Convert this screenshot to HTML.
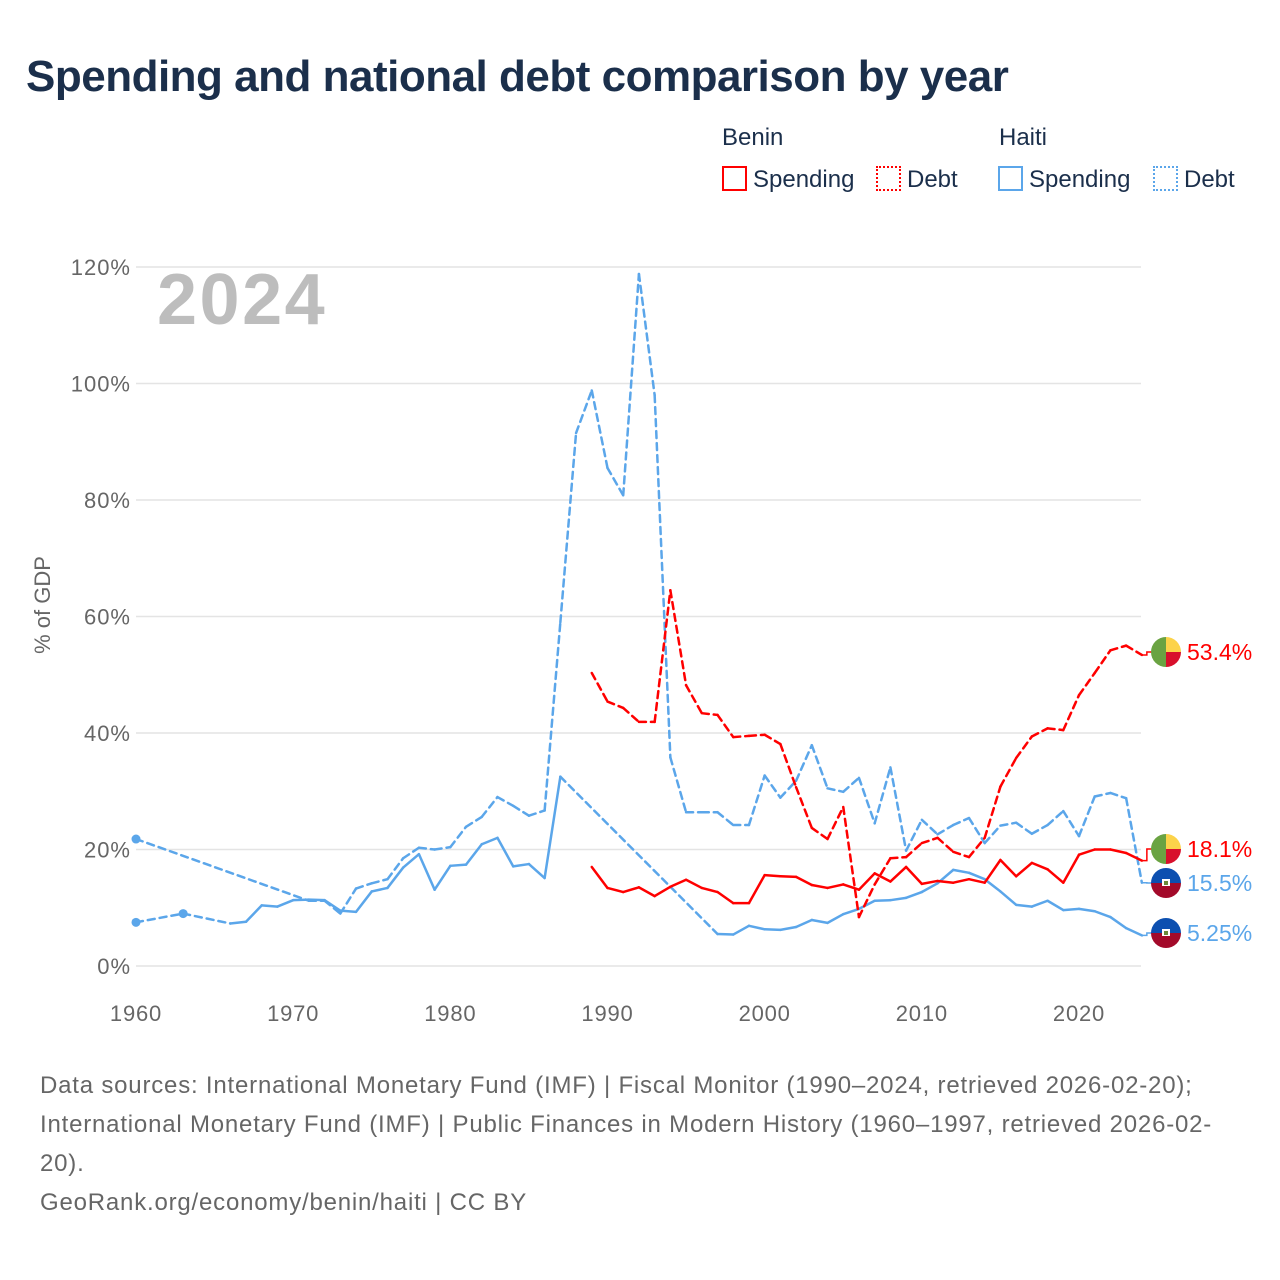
<!DOCTYPE html>
<html><head><meta charset="utf-8"><style>
body{margin:0;background:#fff;font-family:"Liberation Sans",sans-serif;}
#wrap{position:relative;width:1280px;height:1280px;overflow:hidden;}
.t{position:absolute;white-space:nowrap;}
</style></head><body>
<div id="wrap">
<div class="t" style="left:26px;top:52px;font-size:44px;font-weight:bold;color:#1b2f4b;letter-spacing:-0.5px;">Spending and national debt comparison by year</div>
<div class="t" style="left:722px;top:124px;font-size:24px;color:#1b2f4b;">Benin</div>
<div class="t" style="left:999px;top:124px;font-size:24px;color:#1b2f4b;">Haiti</div>
<div class="t" style="left:722px;top:166px;font-size:24px;color:#1b2f4b;"><span style="display:inline-block;width:21px;height:21px;border:2px solid #f00;vertical-align:-4px;margin-right:6px;"></span>Spending</div>
<div class="t" style="left:876px;top:166px;font-size:24px;color:#1b2f4b;"><span style="display:inline-block;width:21px;height:21px;border:2px dotted #f00;vertical-align:-4px;margin-right:6px;"></span>Debt</div>
<div class="t" style="left:998px;top:166px;font-size:24px;color:#1b2f4b;"><span style="display:inline-block;width:21px;height:21px;border:2px solid #5ba6ea;vertical-align:-4px;margin-right:6px;"></span>Spending</div>
<div class="t" style="left:1153px;top:166px;font-size:24px;color:#1b2f4b;"><span style="display:inline-block;width:21px;height:21px;border:2px dotted #5ba6ea;vertical-align:-4px;margin-right:6px;"></span>Debt</div>
<svg id="plot" width="1280" height="1280" style="position:absolute;left:0;top:0;"></svg>
<div class="t" style="left:40px;top:1066px;font-size:24px;line-height:39px;color:#666;white-space:nowrap;letter-spacing:0.8px;">Data sources: International Monetary Fund (IMF) | Fiscal Monitor (1990–2024, retrieved 2026-02-20);<br>International Monetary Fund (IMF) | Public Finances in Modern History (1960–1997, retrieved 2026-02-<br>20).<br>GeoRank.org/economy/benin/haiti | CC BY</div>
</div>
<script>
const years=[];for(let y=1960;y<=2024;y++)years.push(y);
const yTicks=[0,20,40,60,80,100,120];
const xTicks=[1960,1970,1980,1990,2000,2010,2020];
const N=null;
const haitiSpending=[7.5,N,N,9,N,N,7.3,7.6,10.4,10.2,11.3,11.4,11.3,9.5,9.3,12.8,13.4,16.9,19.2,13.1,17.2,17.4,20.9,22.0,17.1,17.5,15.1,32.5,N,N,N,N,N,N,N,N,N,5.5,5.4,6.9,6.3,6.2,6.7,7.9,7.4,8.9,9.8,11.2,11.3,11.7,12.7,14.2,16.5,16.0,14.9,12.8,10.5,10.2,11.2,9.6,9.8,9.4,8.4,6.5,5.25];
const haitiDebt=[21.8,N,N,N,N,N,N,N,N,N,N,11.2,11.2,9.0,13.3,14.2,14.9,18.5,20.3,20.0,20.4,23.9,25.6,29.0,27.5,25.8,26.7,59,91.5,98.8,85.5,80.8,118.8,98,35.8,26.4,26.4,26.4,24.2,24.2,32.7,28.9,31.8,37.9,30.5,29.9,32.3,24.5,34.1,19.8,25.1,22.6,24.2,25.4,21.1,24.1,24.6,22.7,24.2,26.6,22.3,29.1,29.7,28.8,14.3];
const beninSpending=[N,N,N,N,N,N,N,N,N,N,N,N,N,N,N,N,N,N,N,N,N,N,N,N,N,N,N,N,N,17.0,13.4,12.7,13.5,12.0,13.6,14.8,13.4,12.7,10.8,10.8,15.6,15.4,15.3,13.9,13.4,14.0,13.1,15.9,14.5,17.0,14.1,14.6,14.3,14.9,14.3,18.2,15.4,17.7,16.6,14.3,19.1,20.0,20.0,19.4,18.1];
const beninDebt=[N,N,N,N,N,N,N,N,N,N,N,N,N,N,N,N,N,N,N,N,N,N,N,N,N,N,N,N,N,50.3,45.4,44.3,41.9,41.9,64.5,48.2,43.4,43.1,39.3,39.5,39.7,38.1,30.7,23.7,21.8,27.3,8.4,14,18.5,18.7,21.1,22.0,19.6,18.7,22,30.8,35.7,39.4,40.8,40.5,46.5,50.3,54.2,55,53.4];
const endLabels=["53.4%","18.1%","15.5%","5.25%"];
const X=y=>136+(y-1960)*(1079-136)/60;
const Y=v=>966-v*(966-267)/120;
const svg=document.getElementById('plot');const NS='http://www.w3.org/2000/svg';
function mk(t,a,p){const e=document.createElementNS(NS,t);for(const k in a)e.setAttribute(k,a[k]);(p||svg).appendChild(e);return e;}
yTicks.forEach(v=>{const l=mk('line',{x1:136,x2:1141,y1:Y(v),y2:Y(v),stroke:'#e4e4e4','stroke-width':1.5});


const t=mk('text',{x:131,y:Y(v)+8,'text-anchor':'end','font-size':22,fill:'#666','letter-spacing':1,'font-family':'Liberation Sans, sans-serif'});t.textContent=v+'%';

});
xTicks.forEach(y=>{const t=mk('text',{x:X(y),y:1021,'text-anchor':'middle','font-size':22,fill:'#666','letter-spacing':0.8,'font-family':'Liberation Sans, sans-serif'});t.textContent=y;

});
const yl=mk('text',{x:0,y:0,transform:'translate(50,605) rotate(-90)','text-anchor':'middle','font-size':22,fill:'#666','font-family':'Liberation Sans, sans-serif'});yl.textContent='% of GDP';


const yr=mk('text',{x:157,y:324,'font-size':72,'font-weight':'bold',fill:'#bdbdbd','letter-spacing':2.5,'font-family':'Liberation Sans, sans-serif'});yr.textContent='2024';


function series(data,color,dashAll,name){
 const g=mk('g',{});
 
 
 let prev=-1;
 data.forEach((v,i)=>{if(v==null)return;
  if(prev>=0){const gap=i-prev>1;
   const l=mk('line',{x1:X(years[prev]),y1:Y(data[prev]),x2:X(years[i]),y2:Y(v),stroke:color,'stroke-width':2.5,'stroke-linecap':'round'},g);
   if(dashAll||gap)l.setAttribute('stroke-dasharray','7 5');
   
   }
  const pm=i===0||data[i-1]==null, nm=i===data.length-1||data[i+1]==null;
  if(pm&&nm){const c=mk('circle',{cx:X(years[i]),cy:Y(v),r:4.5,fill:color},g);
   
   }
  prev=i;});
}
series(haitiSpending,'#5ba6ea',false,'haiti-spending-line');
series(haitiDebt,'#5ba6ea',true,'haiti-debt-line');
series(beninSpending,'#ff0000',false,'benin-spending-line');
series(beninDebt,'#ff0000',true,'benin-debt-line');
const ends=[[beninDebt,'#ff0000','benin',652],[beninSpending,'#ff0000','benin',849],[haitiDebt,'#5ba6ea','haiti',883],[haitiSpending,'#5ba6ea','haiti',933]];
ends.forEach((e,k)=>{const v=e[0][e[0].length-1],x0=X(2024),y0=Y(v),ly=e[3];
 const c=mk('polyline',{points:`${x0},${y0} ${x0+5},${y0} ${x0+5},${ly} 1152,${ly}`,fill:'none',stroke:e[1],'stroke-width':1.5});
 
 
 const g=mk('g',{});
 
 
 const cx=1166,r=15;
 if(e[2]==='benin'){
  mk('path',{d:`M${cx},${ly-r} A${r},${r} 0 0 0 ${cx},${ly+r} Z`,fill:'#6aa342'},g);
  mk('path',{d:`M${cx},${ly-r} A${r},${r} 0 0 1 ${cx+r},${ly} L${cx},${ly} Z`,fill:'#fcd34a'},g);
  mk('path',{d:`M${cx},${ly} L${cx+r},${ly} A${r},${r} 0 0 1 ${cx},${ly+r} Z`,fill:'#d8102c'},g);
 }else{
  mk('path',{d:`M${cx-r},${ly} A${r},${r} 0 0 1 ${cx+r},${ly} Z`,fill:'#0c4fb0'},g);
  mk('path',{d:`M${cx-r},${ly} A${r},${r} 0 0 0 ${cx+r},${ly} Z`,fill:'#a30a2a'},g);
  mk('rect',{x:cx-4,y:ly-4,width:8,height:7,fill:'#fff'},g);
  mk('rect',{x:cx-2,y:ly-2,width:4,height:4,fill:'#6a8a3a'},g);
 }
 const t=mk('text',{x:1187,y:ly+8,'font-size':23,fill:e[1],'font-family':'Liberation Sans, sans-serif'});t.textContent=endLabels[k];
 
 
});
</script>
</body></html>
